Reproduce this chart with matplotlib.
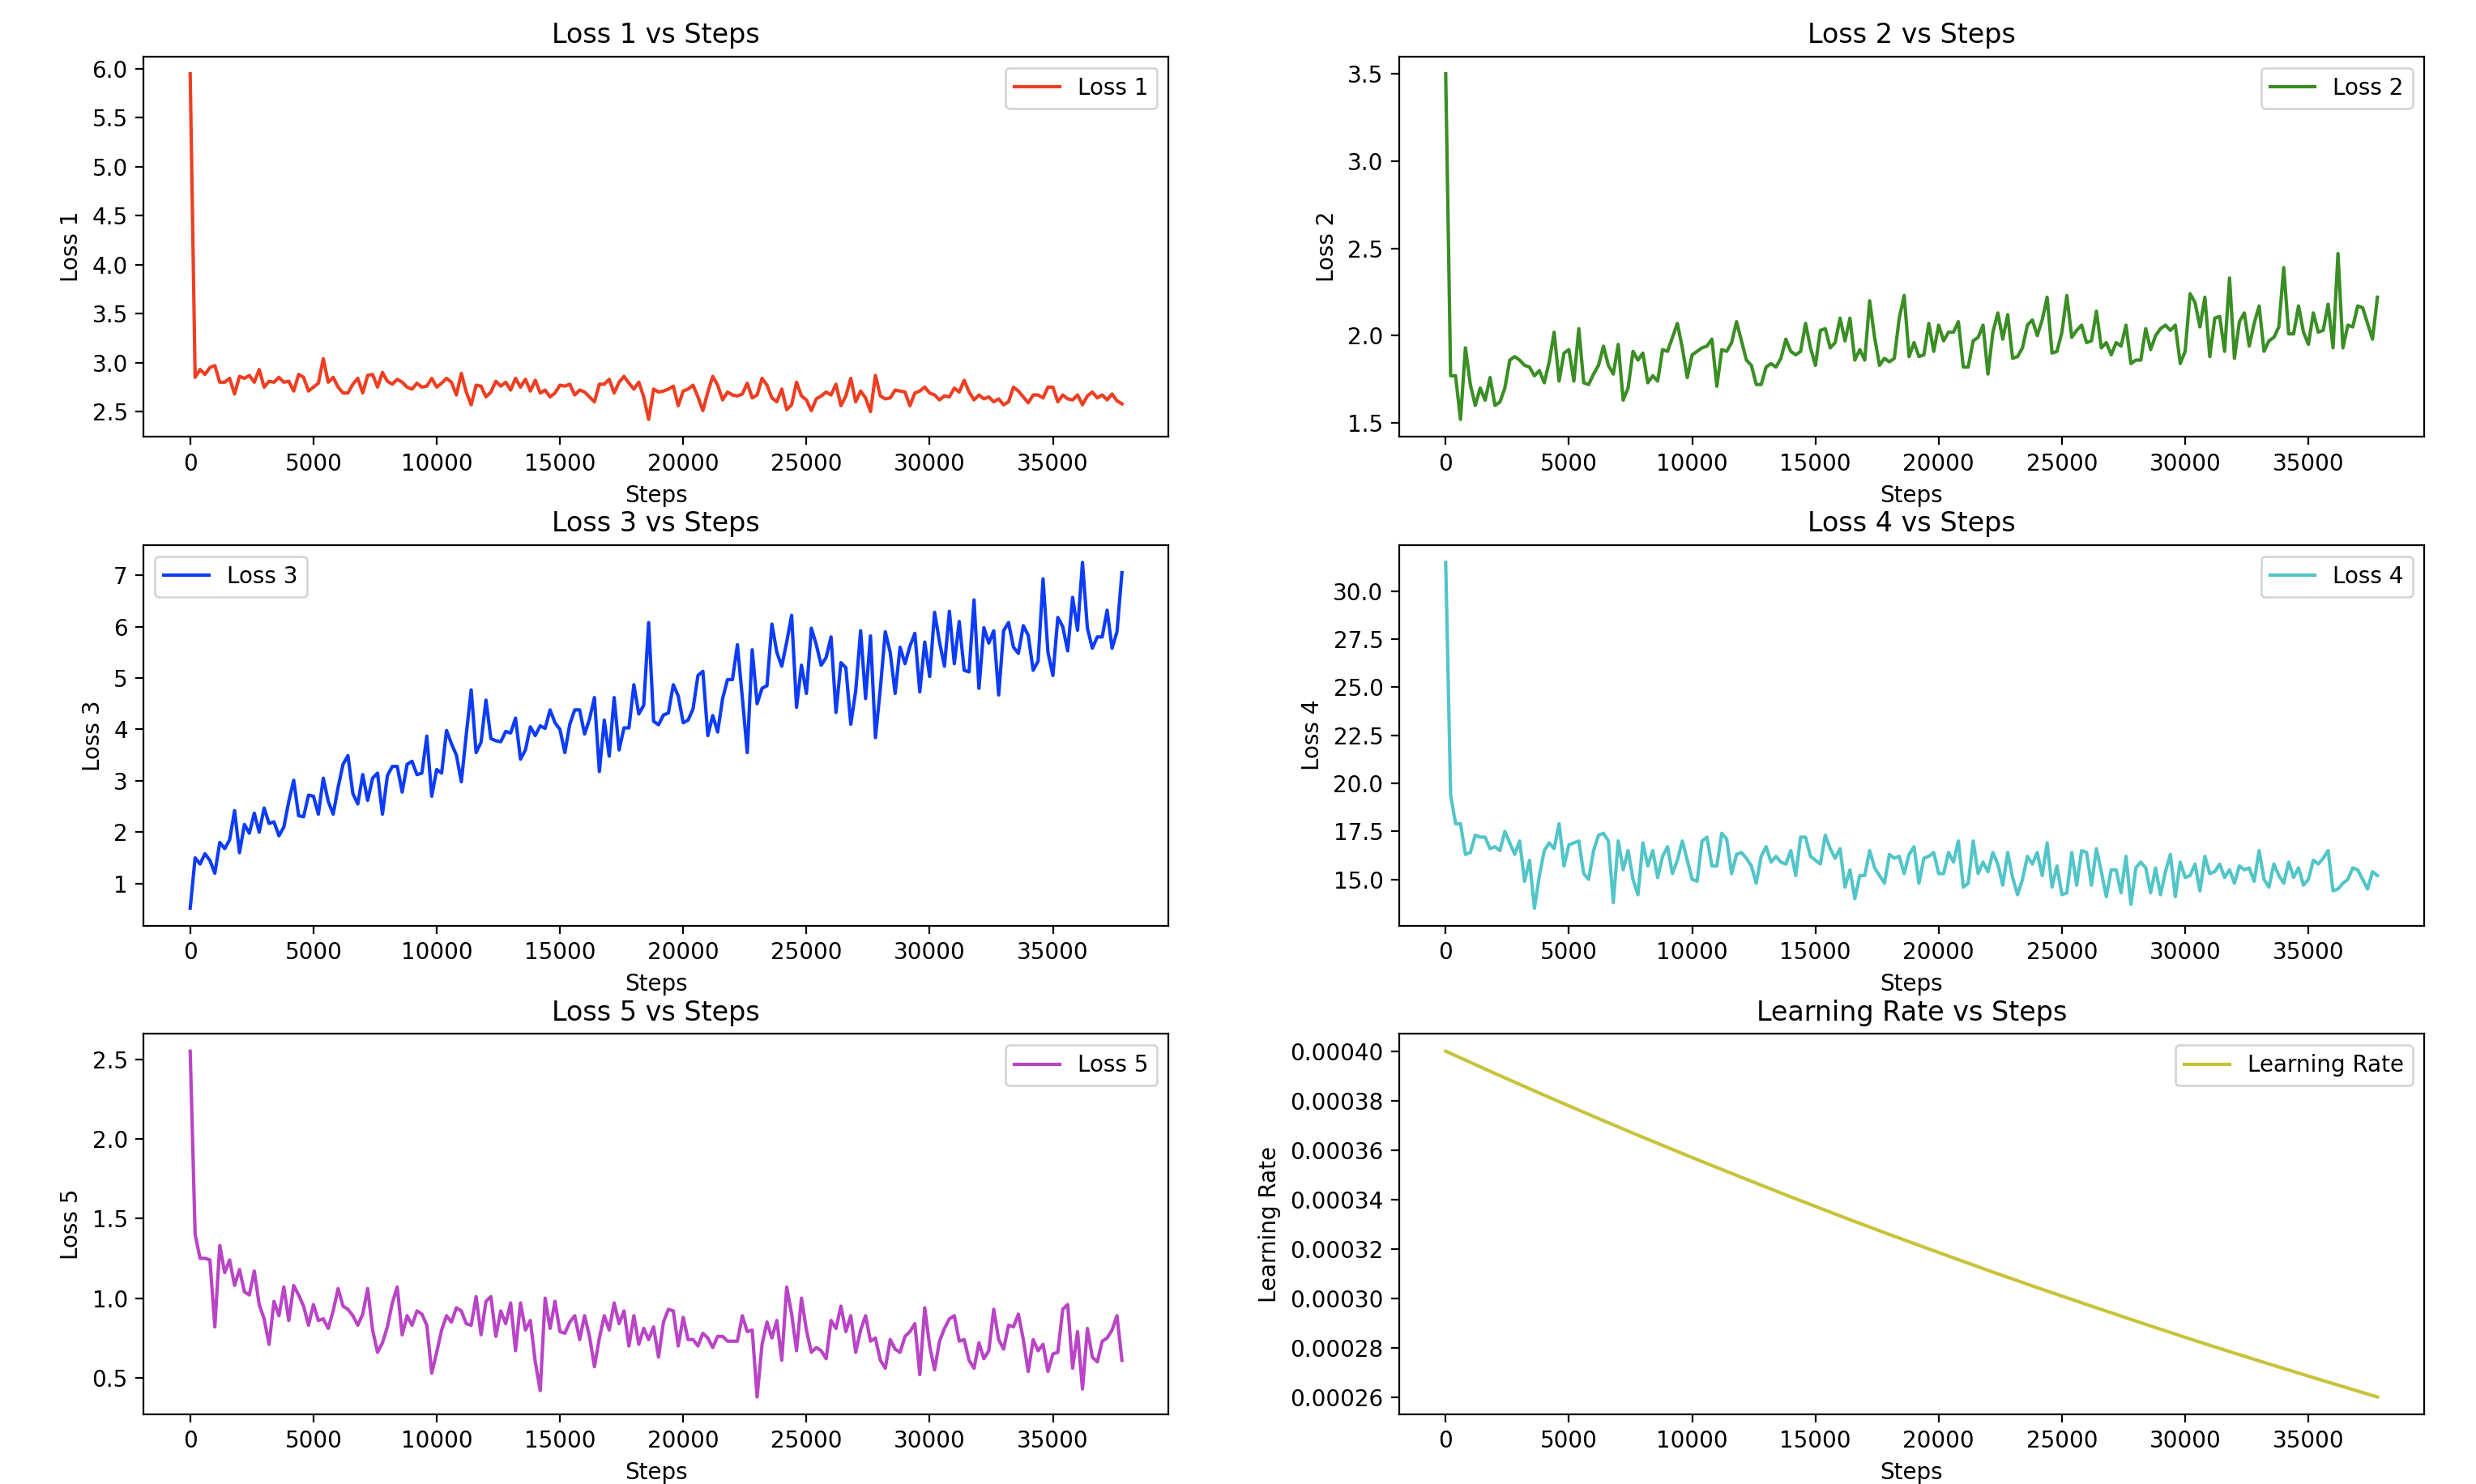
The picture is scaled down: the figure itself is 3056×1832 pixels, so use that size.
import matplotlib
matplotlib.use("Agg")
import matplotlib.pyplot as plt

# logged every 200 steps
steps = list(range(0, 37801, 200))

loss1 = [
    5.95, 2.85, 2.93, 2.88, 2.95, 2.97, 2.80, 2.80, 2.84, 2.68,
    2.86, 2.84, 2.87, 2.80, 2.93, 2.75, 2.81, 2.80, 2.85, 2.80,
    2.81, 2.71, 2.88, 2.85, 2.71, 2.75, 2.79, 3.04, 2.80, 2.85,
    2.75, 2.69, 2.69, 2.78, 2.84, 2.69, 2.87, 2.88, 2.75, 2.90,
    2.81, 2.78, 2.83, 2.80, 2.75, 2.73, 2.79, 2.75, 2.76, 2.84,
    2.75, 2.79, 2.84, 2.80, 2.67, 2.89, 2.70, 2.57, 2.77, 2.76,
    2.65, 2.70, 2.81, 2.76, 2.80, 2.72, 2.84, 2.75, 2.83, 2.71,
    2.82, 2.69, 2.72, 2.65, 2.69, 2.77, 2.76, 2.78, 2.67, 2.72,
    2.70, 2.65, 2.60, 2.78, 2.78, 2.83, 2.69, 2.80, 2.86, 2.79,
    2.73, 2.80, 2.65, 2.42, 2.73, 2.70, 2.71, 2.73, 2.76, 2.56,
    2.71, 2.73, 2.77, 2.65, 2.51, 2.70, 2.86, 2.77, 2.62, 2.70,
    2.67, 2.66, 2.68, 2.79, 2.64, 2.67, 2.84, 2.77, 2.64, 2.60,
    2.73, 2.52, 2.57, 2.80, 2.66, 2.62, 2.51, 2.63, 2.66, 2.70,
    2.67, 2.78, 2.56, 2.66, 2.84, 2.60, 2.71, 2.64, 2.50, 2.87,
    2.66, 2.63, 2.64, 2.72, 2.71, 2.70, 2.56, 2.69, 2.71, 2.75,
    2.69, 2.67, 2.62, 2.66, 2.65, 2.74, 2.70, 2.82, 2.70, 2.62,
    2.67, 2.63, 2.65, 2.60, 2.63, 2.57, 2.60, 2.75, 2.71, 2.65,
    2.59, 2.67, 2.67, 2.64, 2.75, 2.75, 2.60, 2.67, 2.63, 2.62,
    2.67, 2.57, 2.66, 2.70, 2.64, 2.67, 2.62, 2.68, 2.61, 2.58,
]

loss2 = [
    3.50, 1.77, 1.77, 1.52, 1.93, 1.72, 1.60, 1.70, 1.63, 1.76,
    1.60, 1.62, 1.70, 1.86, 1.88, 1.86, 1.83, 1.82, 1.77, 1.80,
    1.73, 1.85, 2.02, 1.74, 1.90, 1.92, 1.74, 2.04, 1.73, 1.72,
    1.78, 1.83, 1.94, 1.83, 1.78, 1.95, 1.63, 1.70, 1.91, 1.86,
    1.90, 1.73, 1.77, 1.74, 1.92, 1.91, 1.99, 2.07, 1.93, 1.76,
    1.89, 1.91, 1.93, 1.94, 1.98, 1.71, 1.92, 1.91, 1.96, 2.08,
    1.97, 1.86, 1.83, 1.72, 1.72, 1.82, 1.84, 1.82, 1.87, 1.98,
    1.91, 1.89, 1.91, 2.07, 1.93, 1.83, 2.03, 2.04, 1.93, 1.96,
    2.10, 1.97, 2.10, 1.86, 1.92, 1.86, 2.20, 1.99, 1.83, 1.87,
    1.85, 1.87, 2.10, 2.23, 1.88, 1.96, 1.88, 1.89, 2.07, 1.91,
    2.06, 1.97, 2.02, 2.02, 2.08, 1.82, 1.82, 1.97, 1.99, 2.06,
    1.78, 2.02, 2.13, 1.98, 2.12, 1.87, 1.88, 1.93, 2.06, 2.09,
    2.00, 2.09, 2.22, 1.90, 1.91, 2.02, 2.23, 1.99, 2.03, 2.06,
    1.96, 1.97, 2.14, 1.93, 1.96, 1.89, 1.96, 1.94, 2.06, 1.84,
    1.86, 1.86, 2.04, 1.92, 2.00, 2.04, 2.06, 2.03, 2.06, 1.84,
    1.91, 2.24, 2.19, 2.05, 2.22, 1.88, 2.10, 2.11, 1.91, 2.33,
    1.87, 2.08, 2.13, 1.94, 2.07, 2.17, 1.91, 1.97, 1.99, 2.05,
    2.39, 2.01, 2.01, 2.17, 2.02, 1.95, 2.13, 2.02, 2.03, 2.18,
    1.93, 2.47, 1.93, 2.06, 2.05, 2.17, 2.16, 2.07, 1.98, 2.22,
]

loss3 = [
    0.52, 1.50, 1.38, 1.58, 1.45, 1.20, 1.80, 1.68, 1.85, 2.42,
    1.60, 2.15, 1.98, 2.37, 2.00, 2.47, 2.17, 2.20, 1.93, 2.10,
    2.60, 3.01, 2.32, 2.30, 2.72, 2.70, 2.35, 3.05, 2.60, 2.35,
    2.87, 3.32, 3.49, 2.75, 2.55, 3.12, 2.62, 3.05, 3.15, 2.35,
    3.10, 3.28, 3.28, 2.78, 3.32, 3.38, 3.12, 3.15, 3.87, 2.70,
    3.22, 3.15, 3.98, 3.72, 3.50, 2.98, 3.90, 4.77, 3.55, 3.75,
    4.57, 3.82, 3.78, 3.76, 3.96, 3.93, 4.22, 3.42, 3.60, 4.05,
    3.88, 4.07, 4.02, 4.38, 4.13, 4.00, 3.55, 4.10, 4.38, 4.38,
    3.91, 4.20, 4.62, 3.18, 4.18, 3.48, 4.62, 3.60, 4.03, 4.03,
    4.87, 4.30, 4.47, 6.08, 4.16, 4.09, 4.28, 4.32, 4.87, 4.65,
    4.13, 4.18, 4.40, 5.05, 5.13, 3.88, 4.27, 3.95, 4.60, 4.97,
    4.97, 5.65, 4.62, 3.55, 5.55, 4.50, 4.80, 4.85, 6.05, 5.50,
    5.23, 5.70, 6.22, 4.43, 5.25, 4.70, 5.97, 5.65, 5.25, 5.40,
    5.80, 4.33, 5.30, 5.20, 4.10, 4.75, 5.92, 4.60, 5.82, 3.84,
    4.80, 5.90, 5.50, 4.70, 5.60, 5.28, 5.62, 5.87, 4.73, 5.70,
    5.03, 6.28, 5.70, 5.23, 6.30, 5.28, 6.10, 5.15, 5.12, 6.52,
    4.80, 5.98, 5.68, 5.92, 4.67, 5.92, 6.08, 5.60, 5.48, 6.02,
    5.83, 5.15, 5.33, 6.93, 5.50, 5.05, 6.18, 6.00, 5.53, 6.57,
    5.93, 7.25, 5.97, 5.58, 5.80, 5.80, 6.32, 5.58, 5.90, 7.05,
]

loss4 = [
    31.5, 19.4, 17.9, 17.9, 16.3, 16.4, 17.3, 17.2, 17.2, 16.6,
    16.7, 16.5, 17.5, 16.9, 16.3, 17.0, 14.9, 16.0, 13.5, 15.2,
    16.5, 16.9, 16.6, 17.9, 15.7, 16.8, 16.9, 17.0, 15.3, 15.0,
    16.5, 17.3, 17.4, 17.0, 13.8, 17.0, 15.5, 16.5, 15.0, 14.2,
    16.9, 15.7, 16.5, 15.1, 16.2, 16.7, 15.3, 16.0, 17.0, 16.0,
    15.0, 14.9, 17.0, 17.2, 15.7, 15.7, 17.4, 17.1, 15.3, 16.3,
    16.4, 16.1, 15.7, 14.8, 16.2, 16.7, 15.9, 16.2, 15.9, 15.8,
    16.5, 15.2, 17.2, 17.2, 16.2, 16.0, 15.8, 17.3, 16.6, 16.1,
    16.6, 14.6, 15.5, 14.0, 15.2, 15.2, 16.5, 15.6, 15.2, 14.8,
    16.3, 16.1, 16.2, 15.3, 16.3, 16.7, 14.8, 16.1, 16.2, 16.4,
    15.3, 15.3, 16.4, 15.9, 17.0, 14.6, 14.8, 17.0, 15.3, 15.9,
    15.4, 16.4, 15.8, 14.7, 16.4, 15.1, 14.2, 15.0, 16.2, 15.8,
    16.4, 15.2, 16.9, 14.6, 15.7, 14.2, 14.3, 16.4, 14.7, 16.5,
    16.4, 14.7, 16.6, 15.4, 14.1, 15.5, 15.5, 14.3, 16.2, 13.7,
    15.6, 15.9, 15.6, 14.3, 15.6, 14.2, 15.4, 16.3, 14.1, 15.9,
    15.1, 15.2, 15.8, 14.4, 16.2, 15.3, 15.4, 15.8, 15.1, 15.5,
    14.8, 15.7, 15.5, 15.6, 14.9, 16.5, 15.0, 14.6, 15.8, 15.2,
    14.8, 15.9, 15.1, 15.6, 14.7, 15.0, 16.0, 15.8, 16.1, 16.5,
    14.4, 14.5, 14.8, 15.0, 15.6, 15.5, 15.0, 14.5, 15.4, 15.2,
]

loss5 = [
    2.55, 1.40, 1.25, 1.25, 1.24, 0.82, 1.33, 1.16, 1.24, 1.08,
    1.18, 1.04, 1.02, 1.17, 0.96, 0.87, 0.71, 0.98, 0.89, 1.07,
    0.86, 1.08, 1.02, 0.95, 0.83, 0.96, 0.86, 0.87, 0.81, 0.92,
    1.06, 0.95, 0.93, 0.89, 0.83, 0.90, 1.06, 0.80, 0.66, 0.72,
    0.82, 0.97, 1.07, 0.77, 0.89, 0.83, 0.92, 0.90, 0.83, 0.53,
    0.66, 0.80, 0.89, 0.85, 0.94, 0.92, 0.84, 0.83, 1.01, 0.77,
    0.98, 1.01, 0.76, 0.92, 0.84, 0.97, 0.67, 0.97, 0.80, 0.86,
    0.60, 0.42, 1.00, 0.81, 0.98, 0.79, 0.78, 0.85, 0.89, 0.74,
    0.89, 0.76, 0.57, 0.75, 0.89, 0.80, 0.97, 0.84, 0.92, 0.70,
    0.89, 0.71, 0.81, 0.74, 0.82, 0.63, 0.85, 0.93, 0.92, 0.70,
    0.88, 0.74, 0.74, 0.70, 0.78, 0.75, 0.69, 0.76, 0.76, 0.73,
    0.73, 0.73, 0.89, 0.79, 0.80, 0.38, 0.71, 0.85, 0.75, 0.86,
    0.61, 1.07, 0.90, 0.67, 1.00, 0.80, 0.66, 0.69, 0.67, 0.62,
    0.86, 0.81, 0.95, 0.79, 0.89, 0.66, 0.80, 0.89, 0.73, 0.75,
    0.61, 0.56, 0.74, 0.68, 0.66, 0.76, 0.79, 0.84, 0.52, 0.94,
    0.70, 0.55, 0.73, 0.81, 0.87, 0.89, 0.73, 0.74, 0.61, 0.56,
    0.72, 0.62, 0.67, 0.93, 0.74, 0.68, 0.83, 0.82, 0.90, 0.74,
    0.54, 0.74, 0.67, 0.71, 0.54, 0.65, 0.66, 0.93, 0.96, 0.56,
    0.79, 0.43, 0.81, 0.63, 0.60, 0.73, 0.75, 0.80, 0.89, 0.61,
]

# learning rate is smooth, a coarser read is enough
lr_steps = [0, 2000, 4000, 6000, 8000, 10000, 12000, 14000, 16000, 18000,
            20000, 22000, 24000, 26000, 28000, 30000, 32000, 34000, 36000, 37800]
lr = [0.0004000, 0.0003910, 0.0003822, 0.0003736, 0.0003652, 0.0003570,
      0.0003490, 0.0003411, 0.0003334, 0.0003259, 0.0003186, 0.0003114,
      0.0003044, 0.0002976, 0.0002909, 0.0002843, 0.0002779, 0.0002717,
      0.0002656, 0.0002602]

panels = [
    (steps, loss1, "Loss 1", "#ee3e22", "upper right"),
    (steps, loss2, "Loss 2", "#3a8e24", "upper right"),
    (steps, loss3, "Loss 3", "#0d3cf8", "upper left"),
    (steps, loss4, "Loss 4", "#52c5c8", "upper right"),
    (steps, loss5, "Loss 5", "#b944c6", "upper right"),
    (lr_steps, lr, "Learning Rate", "#c8c23a", "upper right"),
]

fig, axes = plt.subplots(3, 2, figsize=(15.28, 9.16))
fig.subplots_adjust(left=0.058, right=0.979, bottom=0.047, top=0.962,
                    wspace=0.225, hspace=0.285)

for ax, (x, y, name, col, loc) in zip(axes.flat, panels):
    ax.plot(x[:len(y)], y, color=col, label=name)
    ax.set_title(name + " vs Steps")
    ax.set_xlabel("Steps")
    ax.set_ylabel(name)
    ax.legend(loc=loc)

fig.savefig("out.png", dpi=200)
